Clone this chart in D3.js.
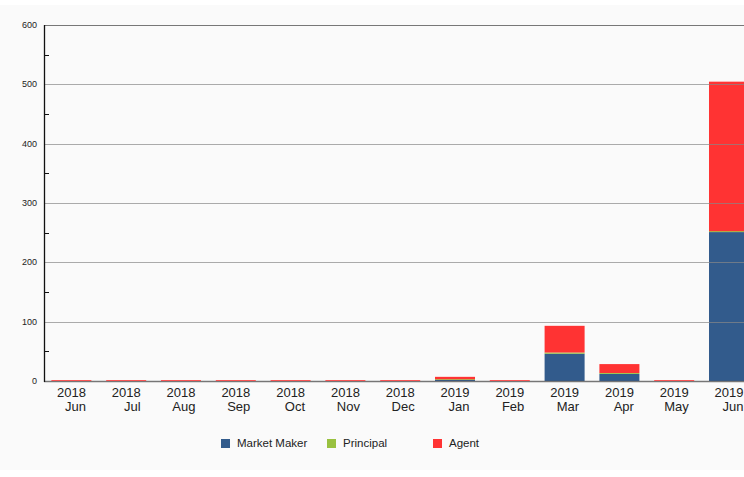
<!DOCTYPE html>
<html>
<head>
<meta charset="utf-8">
<script src="https://cdn.jsdelivr.net/npm/d3@7"></script>
<style>
  html, body { margin: 0; padding: 0; background: #ffffff; }
  svg { display: block; font-family: "Liberation Sans", Arial, sans-serif; }
</style>
</head>
<body>
<svg id="chart" width="744" height="477"></svg>
<script>
const years = ["2018","2018","2018","2018","2018","2018","2018","2019","2019","2019","2019","2019","2019"];
const months = ["Jun","Jul","Aug","Sep","Oct","Nov","Dec","Jan","Feb","Mar","Apr","May","Jun"];
const marketMaker = [0,0,0,0,0,0,0,2,0,46,12,0,251];
const principal   = [0,0,0,0,0,0,0,1,0,2,1.5,0,1.5];
const agent       = [0,0,0,0,0,0,0,4,0,45,15,0,252];
const seriesNames = ["Market Maker","Principal","Agent"];
const seriesColors = ["#325b8c","#99c140","#ff3333"];
const yTicks = [0,100,200,300,400,500,600];
const yMinor = [50,150,250,350,450,550];

const svg = d3.select("#chart");
svg.append("rect").attr("x",0).attr("y",5).attr("width",744).attr("height",465).attr("fill","#fafafa");

const mLeft = 44, mTop = 25, mBottom = 381;
const step = 54.8;
const keys = months.map((m,i)=>years[i]+" "+m+"#"+i);
const x = d3.scaleBand().domain(keys).range([mLeft, mLeft + step*keys.length]).paddingInner(0.27).paddingOuter(0.135);
const y = d3.scaleLinear().domain([0,600]).range([mBottom, mTop]);

const rows = keys.map((k,i)=>({key:k, "Market Maker":marketMaker[i], "Principal":principal[i], "Agent":agent[i]}));
const stacked = d3.stack().keys(seriesNames)(rows);

// bars
const g = svg.append("g");
stacked.forEach((layer, si) => {
  g.selectAll(null).data(layer.filter(d => d[1] - d[0] > 0)).enter().append("rect")
    .attr("x", d => x(d.data.key))
    .attr("width", x.bandwidth())
    .attr("y", d => {
      let h = y(d[0]) - y(d[1]);
      if (si > 0) h = Math.max(h, 1);
      return y(d[0]) - h;
    })
    .attr("height", d => {
      let h = y(d[0]) - y(d[1]);
      if (si > 0) h = Math.max(h, 1);
      return h;
    })
    .attr("fill", seriesColors[si]);
});

// gridlines (over bars)
svg.append("g").selectAll("line").data(yTicks.filter(t=>t>0)).enter().append("line")
  .attr("x1", mLeft).attr("x2", 744)
  .attr("y1", d => Math.round(y(d))+0.5).attr("y2", d => Math.round(y(d))+0.5)
  .attr("stroke", d => d===600 ? "#777" : "#888").attr("stroke-opacity", d => d===600 ? 1 : 0.7).attr("stroke-width", 1);

// x axis line
svg.append("line").attr("x1", mLeft).attr("x2", 744).attr("y1", mBottom+0.5).attr("y2", mBottom+0.5)
  .attr("stroke", "#555").attr("stroke-opacity", 0.8).attr("stroke-width", 1.5);
// zero-value agent marks drawn over the axis
stacked[2].forEach(d => {
  if (d[1] - d[0] === 0 && d[0] === 0) {
    svg.append("line").attr("x1", x(d.data.key)).attr("x2", x(d.data.key)+x.bandwidth())
      .attr("y1", y(0)-0.5).attr("y2", y(0)-0.5).attr("stroke", seriesColors[2]).attr("stroke-opacity", 0.8).attr("stroke-width", 1);
  }
});

// y axis
svg.append("line").attr("x1", mLeft+0.5).attr("x2", mLeft+0.5).attr("y1", mTop).attr("y2", mBottom+1)
  .attr("stroke", "#111").attr("stroke-width", 1.3);
svg.append("g").selectAll("line").data(yMinor).enter().append("line")
  .attr("x1", mLeft).attr("x2", mLeft+5)
  .attr("y1", d => Math.round(y(d))+0.5).attr("y2", d => Math.round(y(d))+0.5)
  .attr("stroke", "#111").attr("stroke-width", 1);
svg.append("g").selectAll("text").data(yTicks).enter().append("text")
  .attr("x", 37).attr("y", d => y(d) + 3)
  .attr("text-anchor", "end").attr("font-size", 9).attr("fill", "#222")
  .text(d => d);

// x labels
const xl = svg.append("g").selectAll("text").data(keys).enter().append("text")
  .attr("text-anchor", "end").attr("font-size", 13).attr("fill", "#222");
xl.each(function(k, i){
  const cx = x(k) + x.bandwidth()/2 + 14.5;
  const t = d3.select(this);
  t.append("tspan").attr("x", cx).attr("y", 397).text(years[i]);
  t.append("tspan").attr("x", cx).attr("y", 411).text(months[i]);
});

// legend
const legendX = [221, 327, 433];
const lg = svg.append("g");
seriesNames.forEach((n, i) => {
  lg.append("rect").attr("x", legendX[i]).attr("y", 439).attr("width", 9).attr("height", 9).attr("fill", seriesColors[i]);
  lg.append("text").attr("x", legendX[i] + 16).attr("y", 447).attr("font-size", 11.5).attr("fill", "#222").text(n);
});
</script>
</body>
</html>
